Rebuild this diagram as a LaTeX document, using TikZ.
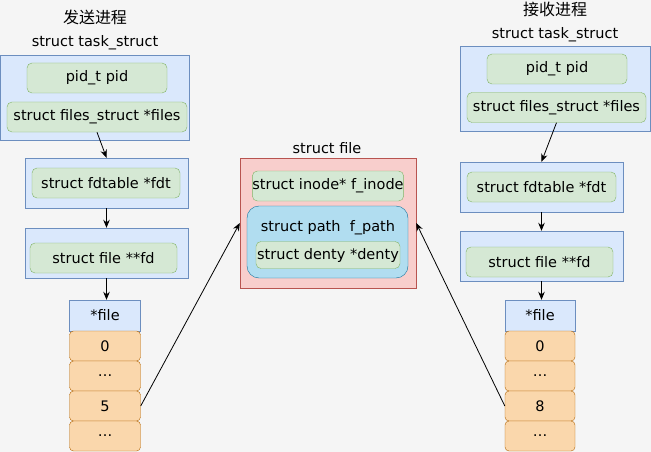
\documentclass[tikz,border=0pt]{standalone}
\usepackage{fontspec}
\setmainfont{DejaVu Sans}
\newfontfamily\cjkfont{Noto Sans CJK SC}
\usetikzlibrary{arrows.meta}

\definecolor{bgcol}{HTML}{F5F5F5}
\definecolor{bluefill}{HTML}{DAE8FC}
\definecolor{blueline}{HTML}{6C8EBF}
\definecolor{greenfill}{HTML}{D5E8D4}
\definecolor{greenline}{HTML}{82B366}
\definecolor{orangefill}{HTML}{FAD7AC}
\definecolor{orangeline}{HTML}{B46504}
\definecolor{redfill}{HTML}{F8CECC}
\definecolor{redline}{HTML}{B85450}
\definecolor{cloudfill}{HTML}{B1DDF0}
\definecolor{cloudline}{HTML}{10739E}

\tikzset{
  outer/.style={draw=blueline, fill=bluefill, inner sep=0pt},
  field/.style={draw=greenline, fill=greenfill, rounded corners=5pt, inner sep=0pt, minimum height=30pt},
  cell/.style={draw=orangeline, fill=orangefill, rounded corners=4pt, inner sep=0pt, minimum width=71pt, minimum height=30pt},
  arr/.style={-{Stealth[length=8pt,width=6.5pt]}, line width=0.8pt},
  title/.style={font=\cjkfont\fontsize{16}{18}\selectfont}
}

\begin{document}
\begin{tikzpicture}[x=1pt,y=-1pt,font=\fontsize{14.5}{16}\selectfont]
  \fill[bgcol] (0,0) rectangle (651,452);
  \useasboundingbox (0,0) rectangle (651,452);

  % sender side
  \node[title] (sendtitle) at (95,17) {发送进程};
  \node (tasklabelL) at (95,43) {struct task\_struct};
  \node[outer, minimum width=189pt, minimum height=85pt] (taskL) at (95,97.5) {};
  \node[field, minimum width=140pt] (pidL) at (97,78) {pid\_t pid};
  \node[field, minimum width=180pt] (filesL) at (97,117) {struct files\_struct *files};
  \node[outer, minimum width=163pt, minimum height=50pt] (fdtL) at (106.5,183) {};
  \node[field, minimum width=148pt] (fdtfieldL) at (106,183) {struct fdtable *fdt};
  \node[outer, minimum width=163pt, minimum height=50pt] (fdL) at (106.5,253) {};
  \node[field, minimum width=147pt] (fdfieldL) at (103.5,258) {struct file **fd};
  \node[outer, minimum width=71pt, minimum height=31pt] (fileL) at (105,315.5) {*file};
  \foreach \y/\t [count=\i] in {346/0, 376/\ldots, 406/5, 436/\ldots}
    \node[cell] (cellL\i) at (105,\y) {\t};

  % receiver side
  \node[title] (recvtitle) at (555,9) {接收进程};
  \node (tasklabelR) at (555,35) {struct task\_struct};
  \node[outer, minimum width=190pt, minimum height=85pt] (taskR) at (555,88.5) {};
  \node[field, minimum width=140pt] (pidR) at (557,69) {pid\_t pid};
  \node[field, minimum width=179pt] (filesR) at (556.5,107.5) {struct files\_struct *files};
  \node[outer, minimum width=163pt, minimum height=50pt] (fdtR) at (541.5,187) {};
  \node[field, minimum width=149pt] (fdtfieldR) at (541.5,187) {struct fdtable *fdt};
  \node[outer, minimum width=163pt, minimum height=50pt] (fdR) at (541.5,256) {};
  \node[field, minimum width=147pt] (fdfieldR) at (539.5,262) {struct file **fd};
  \node[outer, minimum width=70pt, minimum height=31pt] (fileR) at (540,315.5) {*file};
  \foreach \y/\t [count=\i] in {346/0, 376/\ldots, 406/8, 436/\ldots}
    \node[cell, minimum width=70pt] (cellR\i) at (540,\y) {\t};

  % shared struct file
  \node (filelabel) at (327,148) {struct file};
  \node[draw=redline, fill=redfill, minimum width=176pt, minimum height=130pt] (filebox) at (328,223) {};
  \node[field, minimum width=144pt] (inode) at (328,186) {struct inode* f\_inode};
  \node[draw=cloudline, fill=cloudfill, rounded corners=12pt, minimum width=161pt, minimum height=72pt] (path) at (327.5,242) {};
  \node (pathlabel) at (328,228) {struct path\ \ f\_path};
  \node[field, minimum width=144pt, minimum height=27pt] (denty) at (328,255) {struct denty *denty};

  \draw[arr] (filesL.south) -- (fdtL.north);
  \draw[arr] (fdtL.south) -- (fdL.north);
  \draw[arr] (fdL.south) -- (fdL.south |- fileL.north);
  \draw[arr] (filesR.south) -- (fdtR.north);
  \draw[arr] (fdtR.south) -- (fdR.north);
  \draw[arr] (fdR.south) -- (fdR.south |- fileR.north);
  \draw[arr] (cellL3.east) -- (filebox.west);
  \draw[arr] (cellR3.west) -- (filebox.east);
\end{tikzpicture}
\end{document}
